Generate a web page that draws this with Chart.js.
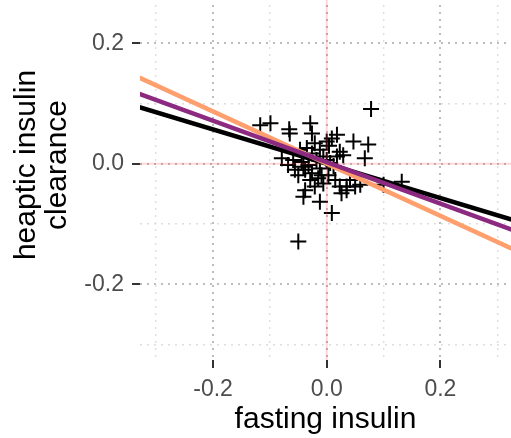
<!DOCTYPE html>
<html>
<head>
<meta charset="utf-8">
<script src="https://cdn.jsdelivr.net/npm/chart.js@4"></script>
<style>
  body { margin: 0; background: #fff; }
  canvas { display: block; }
</style>
</head>
<body>
<canvas id="fitChart" width="511" height="438"></canvas>
<script>
// scatter points (fasting insulin vs hepatic insulin clearance)
const pointsX = [0.078, -0.099, -0.117, -0.066, -0.029, -0.065, 0.018, -0.026, 0.009, 0.047,
    0.073, 0.067, -0.079, -0.021, -0.035, -0.012, -0.026, 0.023, 0.018, 0.029,
    -0.044, -0.056, -0.038, -0.050, -0.026, -0.012, -0.029, -0.015, 0.003, 0.015,
    0.023, 0.035, 0.050, -0.038, -0.041, -0.012, 0.009, -0.050, 0.132, 0.100,
    0.000, -0.047, -0.018, 0.006, -0.006, 0.041, -0.032, -0.068, -0.059, -0.021,
    0.059, 0.026, -0.009, 0.035, -0.041, 0.000, 0.004, -0.006, 0.012];
const pointsY = [0.091, 0.067, 0.064, 0.057, 0.067, 0.050, 0.048, 0.050, 0.042, 0.037,
    0.032, 0.009, 0.009, 0.034, 0.026, 0.023, 0.017, 0.020, 0.012, 0.014,
    0.003, -0.010, -0.010, -0.019, -0.016, -0.008, -0.027, -0.024, -0.019, -0.027,
    -0.038, -0.038, -0.038, -0.044, -0.055, -0.063, -0.082, -0.129, -0.030, -0.035,
    0.006, 0.023, 0.006, 0.001, -0.033, -0.027, -0.002, -0.002, 0.006, -0.038,
    -0.035, -0.049, -0.019, -0.044, -0.005, 0.037, 0.030, 0.012, -0.004];

// fitted lines, read at both ends of the panel
const fitX = [-0.33, 0.33];
const fitBlack = [0.094, -0.094];
const fitPurple = [0.116, -0.111];
const fitOrange = [0.143, -0.143];

// zero reference lines
const zeroSpan = [-0.4, 0.4];
const zeroAt = [0, 0];

// axis ticks
const gridValues = [-0.3, -0.2, -0.1, 0, 0.1, 0.2, 0.3];
const majorTicks = [-0.2, 0, 0.2];

const isMajor = v => majorTicks.some(m => Math.abs(m - v) < 1e-6);
const toXY = (xs, ys) => xs.map((x, i) => ({ x: x, y: ys[i] }));

const tickFont = { family: 'Liberation Sans', size: 23 };
const titleFont = { family: 'Liberation Sans', size: 30, lineHeight: '31px' };

function axisOptions(min, max) {
    return {
        type: 'linear',
        min: min,
        max: max,
        afterBuildTicks: scale => {
            scale.ticks = gridValues.map(v => ({ value: v }));
        },
        ticks: {
            includeBounds: false,
            autoSkip: false,
            maxRotation: 0,
            color: '#4d4d4d',
            font: tickFont,
            padding: 8,
            callback: v => isMajor(v) ? v.toFixed(1) : ''
        },
        grid: {
            color: ctx => isMajor(ctx.tick.value) ? '#bdbdbd' : '#dedede',
            lineWidth: ctx => isMajor(ctx.tick.value) ? 2 : 1.4,
            tickColor: ctx => isMajor(ctx.tick.value) ? '#333333' : 'rgba(0,0,0,0)',
            tickWidth: 2,
            tickLength: 8
        },
        border: { display: false, dash: [2, 5] }
    };
}

function trimPadding(scale) {
    scale.paddingTop = 0;
    scale.paddingBottom = 0;
    scale.paddingLeft = 0;
    scale.paddingRight = 0;
}

const xAxis = axisOptions(-0.3285, 0.3242);
xAxis.title = { display: true, text: 'fasting insulin', color: '#000', font: titleFont, padding: { top: 0, bottom: 3 } };
xAxis.afterFit = scale => { scale.height = 78; trimPadding(scale); };

const yAxis = axisOptions(-0.3258, 0.3215);
yAxis.title = { display: true, text: ['heaptic insulin', 'clearance'], color: '#000', font: titleFont, padding: { top: 11, bottom: 0 } };
yAxis.afterFit = scale => { scale.width = 140; trimPadding(scale); };

// the picture is a crop: the panel's top lies 30px above the canvas
const panelTop = -30;
const cropTop = {
    id: 'cropTop',
    afterLayout(chart) {
        const y = chart.scales.y;
        y.top = panelTop;
        y.height = y.bottom - y.top;
        chart.chartArea.top = panelTop;
        chart.chartArea.height = chart.chartArea.bottom - panelTop;
        y.configure();
    }
};

new Chart(document.getElementById('fitChart'), {
    type: 'scatter',
    data: {
        datasets: [
            { type: 'line', data: toXY(fitX, fitPurple), borderColor: '#8c2981', borderWidth: 4.5, pointRadius: 0, fill: false },
            { type: 'line', data: toXY(fitX, fitOrange), borderColor: '#fe9f6d', borderWidth: 4.5, pointRadius: 0, fill: false },
            { type: 'line', data: toXY(fitX, fitBlack), borderColor: '#000000', borderWidth: 4.5, pointRadius: 0, fill: false },
            { type: 'line', data: toXY(zeroSpan, zeroAt), borderColor: 'rgba(240,60,60,0.2)', borderWidth: 2, pointRadius: 0, fill: false },
            { type: 'line', data: toXY(zeroAt, zeroSpan), borderColor: 'rgba(240,60,60,0.2)', borderWidth: 2, pointRadius: 0, fill: false },
            {
                data: toXY(pointsX, pointsY),
                pointStyle: 'cross',
                pointRadius: 8,
                borderColor: '#000000',
                borderWidth: 2,
                backgroundColor: '#000000'
            }
        ]
    },
    options: {
        responsive: false,
        animation: false,
        layout: { autoPadding: false, padding: 0 },
        plugins: { legend: { display: false }, tooltip: { enabled: false } },
        scales: { x: xAxis, y: yAxis }
    },
    plugins: [cropTop]
});
</script>
</body>
</html>
